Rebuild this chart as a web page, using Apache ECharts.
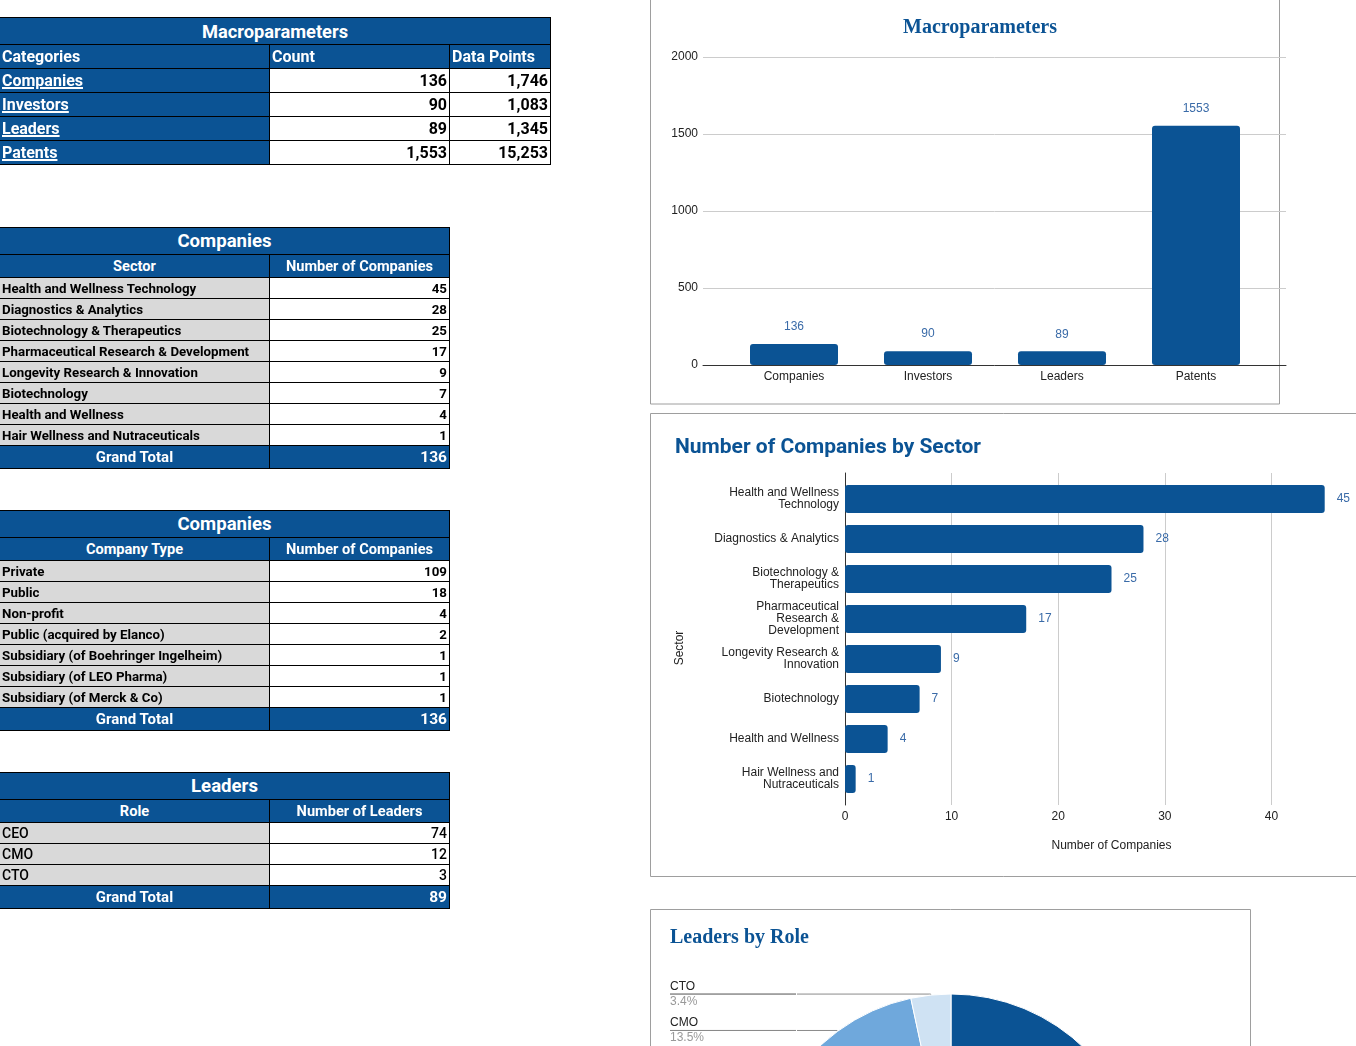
<!DOCTYPE html>
<html><head><meta charset="utf-8">
<script src="https://cdn.jsdelivr.net/npm/echarts@6/dist/echarts.min.js"></script>
<style>
html,body{margin:0;padding:0;width:1356px;height:1046px;overflow:hidden;background:#fff;font-family:Roboto,Arial,sans-serif}
#chart{position:absolute;left:0;top:0;width:1356px;height:1046px;}
#tables{position:absolute;left:0;top:0;}
.cell{position:absolute;box-sizing:border-box;border:1px solid #000;white-space:nowrap;overflow:hidden;display:flex;align-items:center;padding:0 2px;font-family:Roboto,sans-serif;}
</style></head><body>
<div id="chart"></div>
<div id="tables"></div>
<script>
// ---------- data ----------
const macroCategories = ['Companies', 'Investors', 'Leaders', 'Patents'];
const macroCounts = [136, 90, 89, 1553];
const macroDataPoints = [1746, 1083, 1345, 15253];
const macroYTicks = [0, 500, 1000, 1500, 2000];

const sectors = ['Health and Wellness Technology', 'Diagnostics & Analytics', 'Biotechnology & Therapeutics',
  'Pharmaceutical Research & Development', 'Longevity Research & Innovation', 'Biotechnology',
  'Health and Wellness', 'Hair Wellness and Nutraceuticals'];
const sectorTickLabels = ['Health and Wellness\nTechnology', 'Diagnostics & Analytics', 'Biotechnology &\nTherapeutics',
  'Pharmaceutical\nResearch &\nDevelopment', 'Longevity Research &\nInnovation', 'Biotechnology',
  'Health and Wellness', 'Hair Wellness and\nNutraceuticals'];
const sectorCounts = [45, 28, 25, 17, 9, 7, 4, 1];

const companyTypes = ['Private', 'Public', 'Non-profit', 'Public (acquired by Elanco)',
  'Subsidiary (of Boehringer Ingelheim)', 'Subsidiary (of LEO Pharma)', 'Subsidiary (of Merck & Co)'];
const companyTypeCounts = [109, 18, 4, 2, 1, 1, 1];

const roles = ['CEO', 'CMO', 'CTO'];
const roleCounts = [74, 12, 3];

// ---------- styles ----------
const BLUE = '#0b5394';
const LABEL_BLUE = '#3a6ba8';
const GREY_CELL = '#d9d9d9';
const pieColors = ['#0b5394', '#6fa8dc', '#cfe2f3'];
const sum = a => a.reduce((s, v) => s + v, 0);
const fmt = v => v.toLocaleString('en-US');

// ---------- tables ----------
const host = document.getElementById('tables');
function addCell(x1, x2, y1, y2, text, st) {
  const d = document.createElement('div');
  d.className = 'cell';
  d.style.left = x1 + 'px'; d.style.top = y1 + 'px';
  d.style.width = (x2 - x1 + 1) + 'px'; d.style.height = (y2 - y1 + 1) + 'px';
  d.style.background = st.bg || '#fff';
  d.style.color = st.color || '#000';
  d.style.fontWeight = st.weight || 400;
  d.style.fontSize = (st.size || 13) + 'px';
  d.style.justifyContent = st.align === 'center' ? 'center' : (st.align === 'right' ? 'flex-end' : 'flex-start');
  if (st.underline) { d.style.textDecoration = 'underline'; d.style.textDecorationThickness = '2px'; }
  d.textContent = text;
  host.appendChild(d);
}

// Table 1: Macroparameters
(function () {
  const xs = [-1, 269, 449, 550];
  const ys = [17, 44, 68, 92, 116, 140, 164];
  addCell(xs[0], xs[3], ys[0], ys[1], 'Macroparameters', {bg: BLUE, color: '#fff', weight: 700, size: 18.3, align: 'center'});
  ['Categories', 'Count', 'Data Points'].forEach((h, i) =>
    addCell(xs[i], xs[i + 1], ys[1], ys[2], h, {bg: BLUE, color: '#fff', weight: 700, size: 16}));
  macroCategories.forEach((c, r) => {
    addCell(xs[0], xs[1], ys[r + 2], ys[r + 3], c, {bg: BLUE, color: '#fff', weight: 700, size: 16, underline: true});
    addCell(xs[1], xs[2], ys[r + 2], ys[r + 3], fmt(macroCounts[r]), {weight: 700, size: 16, align: 'right'});
    addCell(xs[2], xs[3], ys[r + 2], ys[r + 3], fmt(macroDataPoints[r]), {weight: 700, size: 16, align: 'right'});
  });
})();

function pivotTable(top, title, headers, labels, values, bold) {
  const xs = [-1, 269, 449];
  const yT = top, yH = top + 27, yR = top + 50, rh = 21;
  addCell(xs[0], xs[2], yT, yH, title, {bg: BLUE, color: '#fff', weight: 700, size: 18.6, align: 'center'});
  headers.forEach((h, i) => addCell(xs[i], xs[i + 1], yH, yR, h, {bg: BLUE, color: '#fff', weight: 700, size: 14.6, align: 'center'}));
  labels.forEach((l, r) => {
    const y1 = yR + r * rh, y2 = y1 + rh;
    addCell(xs[0], xs[1], y1, y2, l, {bg: GREY_CELL, weight: bold ? 700 : 500, size: bold ? 13.3 : 14});
    addCell(xs[1], xs[2], y1, y2, fmt(values[r]), {weight: bold ? 700 : 500, size: bold ? 13.3 : 14, align: 'right'});
  });
  const yG = yR + labels.length * rh;
  addCell(xs[0], xs[1], yG, yG + 23, 'Grand Total', {bg: BLUE, color: '#fff', weight: 700, size: 15, align: 'center'});
  addCell(xs[1], xs[2], yG, yG + 23, fmt(sum(values)), {bg: BLUE, color: '#fff', weight: 700, size: 15.5, align: 'right'});
}
pivotTable(227, 'Companies', ['Sector', 'Number of Companies'], sectors, sectorCounts, true);
pivotTable(510, 'Companies', ['Company Type', 'Number of Companies'], companyTypes, companyTypeCounts, true);
pivotTable(772, 'Leaders', ['Role', 'Number of Leaders'], roles, roleCounts, false);

// ---------- charts ----------
const chart = echarts.init(document.getElementById('chart'));
const SANS = 'Liberation Sans, Arial, sans-serif';
const SERIF = 'Liberation Serif, Times New Roman, serif';
const axisText = {color: '#222', fontSize: 12, fontFamily: SANS};
const plain = v => String(v);
const LEADER = '#8a8a8a';

const option = {
  animation: false,
  graphic: [
    {type: 'rect', shape: {x: 650.5, y: -5, width: 629, height: 409}, style: {fill: 'none', stroke: '#9e9e9e', lineWidth: 1}, z: -1},
    {type: 'rect', shape: {x: 650.5, y: 413.5, width: 800, height: 463}, style: {fill: 'none', stroke: '#9e9e9e', lineWidth: 1}, z: -1},
    {type: 'rect', shape: {x: 650.5, y: 909.5, width: 600, height: 300}, style: {fill: 'none', stroke: '#9e9e9e', lineWidth: 1}, z: -1},
    {type: 'text', x: 680, y: 648, rotation: Math.PI / 2,
      style: {text: 'Sector', fill: '#222', fontSize: 12, fontFamily: SANS, align: 'center', verticalAlign: 'middle'}}
  ],
  title: [
    {text: 'Macroparameters', left: 903, top: 18, padding: 0,
      textStyle: {fontFamily: SERIF, fontWeight: 'bold', fontSize: 20, color: BLUE}},
    {text: 'Number of Companies by Sector', left: 675, top: 437, padding: 0,
      textStyle: {fontFamily: 'Roboto, sans-serif', fontWeight: 'bold', fontSize: 21, color: BLUE}},
    {text: 'Leaders by Role', left: 670, top: 928, padding: 0,
      textStyle: {fontFamily: SERIF, fontWeight: 'bold', fontSize: 20, color: BLUE}}
  ],
  grid: [
    {left: 703, top: 57, width: 583, height: 308, outerBoundsMode: 'none', containLabel: false},
    {left: 727, top: 57, width: 536, height: 308, outerBoundsMode: 'none', containLabel: false},
    {left: 845, top: 473, width: 533, height: 332, outerBoundsMode: 'none', containLabel: false},
    {left: 845, top: 479, width: 533, height: 320, outerBoundsMode: 'none', containLabel: false}
  ],
  xAxis: [
    {gridIndex: 0, type: 'value', min: 0, max: 1, axisLine: {show: true, onZero: false, lineStyle: {color: '#333'}},
      axisTick: {show: false}, axisLabel: {show: false}, splitLine: {show: false}},
    {gridIndex: 1, type: 'category', data: macroCategories, axisLine: {show: false}, axisTick: {show: false},
      axisLabel: Object.assign({margin: 6}, axisText)},
    {gridIndex: 2, type: 'value', min: 0, max: 50, interval: 10, axisLine: {show: false}, axisTick: {show: false},
      axisLabel: Object.assign({margin: 6, formatter: plain}, axisText), splitLine: {lineStyle: {color: '#cccccc'}},
      name: 'Number of Companies', nameLocation: 'middle', nameGap: 35, nameTextStyle: axisText},
    {gridIndex: 3, type: 'value', min: 0, max: 50, show: false}
  ],
  yAxis: [
    {gridIndex: 0, type: 'value', min: macroYTicks[0], max: macroYTicks[macroYTicks.length - 1], interval: 500,
      axisLine: {show: false}, axisTick: {show: false}, axisLabel: Object.assign({margin: 5, formatter: plain}, axisText),
      splitLine: {lineStyle: {color: '#cccccc'}}},
    {gridIndex: 1, type: 'value', min: 0, max: 2000, show: false},
    {gridIndex: 2, type: 'value', min: 0, max: 1, axisLine: {show: true, onZero: false, lineStyle: {color: '#333'}},
      axisTick: {show: false}, axisLabel: {show: false}, splitLine: {show: false}},
    {gridIndex: 3, type: 'category', inverse: true, data: sectors, axisLine: {show: false}, axisTick: {show: false},
      axisLabel: Object.assign({margin: 6, lineHeight: 12, align: 'right', formatter: (v, i) => sectorTickLabels[i]}, axisText)}
  ],
  series: [
    {type: 'bar', xAxisIndex: 1, yAxisIndex: 1, data: macroCounts, barWidth: 88,
      itemStyle: {color: BLUE, borderRadius: 3},
      label: {show: true, position: 'top', distance: 11, color: LABEL_BLUE, fontSize: 12, fontFamily: SANS}},
    {type: 'bar', xAxisIndex: 3, yAxisIndex: 3, data: sectorCounts, barWidth: 28,
      itemStyle: {color: BLUE, borderRadius: 3},
      label: {show: true, position: 'right', distance: 12, color: LABEL_BLUE, fontSize: 12, fontFamily: SANS}},
    {type: 'pie', left: 651, top: 910, width: 600, height: 500, center: [300, 275], radius: 191,
      startAngle: 90, clockwise: true, percentPrecision: 1,
      data: roles.map((r, i) => ({name: r, value: roleCounts[i], itemStyle: {color: pieColors[i]}})),
      itemStyle: {borderColor: '#fff', borderWidth: 1},
      label: {alignTo: 'edge', edgeDistance: 19, distanceToLabelLine: 0, formatter: '{n|{b}}\n{hr|}\n{p|{d}%}',
        rich: {
          n: {color: '#222', fontSize: 12, lineHeight: 15, fontFamily: SANS},
          hr: {width: 126, height: 0, borderColor: LEADER, borderWidth: 1},
          p: {color: '#999', fontSize: 12, lineHeight: 15, fontFamily: SANS}
        }},
      labelLine: {length: 1, length2: 10, lineStyle: {color: LEADER, width: 1}}}
  ]
};
chart.setOption(option);
</script>
</body></html>
